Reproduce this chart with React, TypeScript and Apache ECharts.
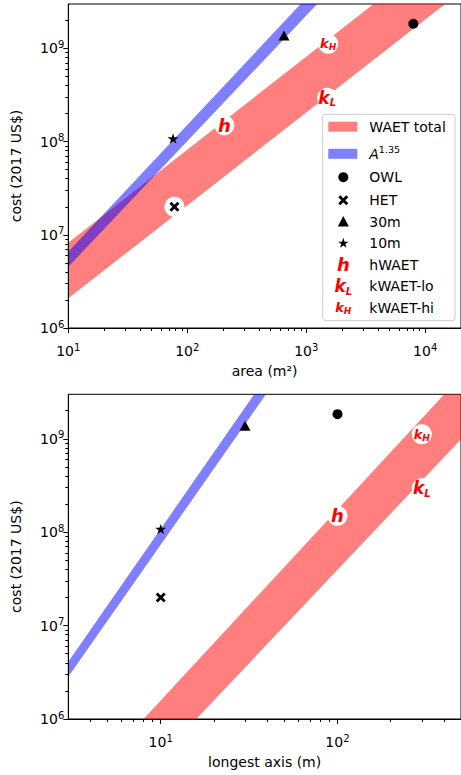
import React, { useEffect, useRef } from 'react';
import * as echarts from 'echarts';

const FONT = "'DejaVu Sans', 'Liberation Sans', sans-serif";

// ---- telescopes (markers) ----
const telNames = ['OWL', 'HET', '30m', '10m'];
const telArea = [7950, 78, 650, 76];
const telAxis = [100, 10, 30, 10];
const telCost = [1.84e9, 2.0e7, 1.38e9, 1.08e8];

// ---- WAET design labels ----
const waetNames = ['hWAET', 'kWAET-lo', 'kWAET-hi'];
const waetArea = [205, 1500, 1530];
const waetAxis = [100, 300, 300];
const waetCost = [1.5e8, 2.95e8, 1.12e9];

// ---- bands, area panel ----
const areaWaetUpper = [[10, 8.2e6], [3680, 3e9]];
const areaWaetLower = [[10, 2.08e6], [14700, 3e9]];
const areaPowUpper = [[10, 6.58e6], [898, 3e9]];
const areaPowLower = [[10, 4.54e6], [1236, 3e9]];

// ---- bands, longest-axis panel ----
const axisWaetUpper = [[8.0, 1e6], [402, 3e9], [500, 3e9]];
const axisWaetLower = [[15.9, 1e6], [500, 9.9e8]];
const axisPowUpper = [[3, 4.1e6], [33.8, 3e9]];
const axisPowLower = [[3, 2.83e6], [39.4, 3e9]];

// ---- ticks ----
const areaTicks = [10, 100, 1000, 10000];
const areaTickExps = ['1', '2', '3', '4'];
const lengthTicks = [10, 100];
const lengthTickExps = ['1', '2'];
const costTicks = [1e6, 1e7, 1e8, 1e9];
const costTickExps = ['6', '7', '8', '9'];

const AREA_MIN = 10, AREA_MAX = 2e4;
const LEN_MIN = 3, LEN_MAX = 500;
const COST_MIN = 1e6, COST_MAX = 3e9;

function minorTicks(lo: number, hi: number): number[] {
  const out: number[] = [];
  let dec = Math.pow(10, Math.floor(Math.log10(lo)));
  while (dec <= hi) {
    for (let m = 2; m <= 9; m++) {
      const v = m * dec;
      if (v > lo * 1.0000001 && v < hi * 0.9999999) out.push(v);
    }
    dec *= 10;
  }
  return out;
}

const RED = 'rgba(255,0,0,0.5)';
const BLUE = 'rgba(0,0,255,0.5)';
const LBL_RED = '#ff0000';

const X_PATH = 'path://M0,2 L2,0 L5,3 L8,0 L10,2 L7,5 L10,8 L8,10 L5,7 L2,10 L0,8 L3,5 Z';
const STAR_PATH =
  'path://M50,0 L61.2,34.5 L97.6,34.5 L68.2,55.9 L79.4,90.5 L50,69.1 L20.6,90.5 L31.8,55.9 L2.4,34.5 L38.8,34.5 Z';

const telSymbols: any[] = ['circle', X_PATH, 'triangle', STAR_PATH];
const telSizes: any[] = [10, 10, [11, 10], 11];

const labelFormats = ['{h|h}', '{kl|k}{ls|L}', '{kh|k}{hs|H}'];

const lblTok = (fontSize: number, lineHeight: number, extra: any = {}) => ({
  fontSize, lineHeight, fontWeight: 'bold', fontStyle: 'italic',
  color: LBL_RED, fill: LBL_RED, fontFamily: FONT, ...extra,
});
const rich: any = {
  h: lblTok(18, 20),
  kl: lblTok(17, 20),
  ls: lblTok(10, 9, { verticalAlign: 'bottom' }),
  kh: lblTok(13, 16),
  hs: lblTok(9, 8, { verticalAlign: 'bottom' }),
};

const tickRich: any = {
  b: { fontFamily: FONT, fontSize: 14, color: '#000', lineHeight: 18 },
  s: { fontFamily: FONT, fontSize: 10, color: '#000', lineHeight: 10, verticalAlign: 'top' },
};

function tickFormatter(ticks: number[], exps: string[]) {
  return (v: number) => {
    const i = ticks.findIndex((t) => Math.abs(Math.log10(t) - Math.log10(v)) < 1e-6);
    return i >= 0 ? `{b|10}{s|${exps[i]}}` : '';
  };
}

function xAxes(gridIndex: number, min: number, max: number, name: string, ticks: number[], exps: string[]) {
  return [
    {
      type: 'log', logBase: 10, gridIndex, min, max, position: 'bottom',
      name, nameLocation: 'middle', nameGap: 36,
      nameTextStyle: { fontFamily: FONT, fontSize: 14, color: '#000' },
      axisLine: { show: true, onZero: false, lineStyle: { color: '#000', width: 1 } },
      axisTick: { show: true, inside: false, length: 5, customValues: ticks, lineStyle: { color: '#000', width: 1 } },
      axisLabel: { show: true, customValues: ticks, formatter: tickFormatter(ticks, exps), rich: tickRich, fontFamily: FONT, fontSize: 14, color: '#000', margin: 14 },
      splitLine: { show: false }, minorTick: { show: false }, minorSplitLine: { show: false },
      z: 10,
    },
    {
      type: 'log', logBase: 10, gridIndex, min, max, position: 'bottom',
      axisLine: { show: false },
      axisTick: { show: true, inside: false, length: 3, customValues: minorTicks(min, max), lineStyle: { color: '#000', width: 1 } },
      axisLabel: { show: false },
      splitLine: { show: false },
      z: 10,
    },
  ];
}

function yAxes(gridIndex: number) {
  return [
    {
      type: 'log', logBase: 10, gridIndex, min: COST_MIN, max: COST_MAX, position: 'left',
      name: 'cost (2017 US$)', nameLocation: 'middle', nameGap: 45,
      nameTextStyle: { fontFamily: FONT, fontSize: 14, color: '#000' },
      axisLine: { show: true, onZero: false, lineStyle: { color: '#000', width: 1 } },
      axisTick: { show: true, inside: false, length: 5, customValues: costTicks, lineStyle: { color: '#000', width: 1 } },
      axisLabel: { show: true, customValues: costTicks, formatter: tickFormatter(costTicks, costTickExps), rich: tickRich, fontFamily: FONT, fontSize: 14, color: '#000', margin: 4 },
      splitLine: { show: false }, minorTick: { show: false }, minorSplitLine: { show: false },
      z: 10,
    },
    {
      type: 'log', logBase: 10, gridIndex, min: COST_MIN, max: COST_MAX, position: 'left',
      axisLine: { show: false },
      axisTick: { show: true, inside: false, length: 3, customValues: minorTicks(COST_MIN, COST_MAX), lineStyle: { color: '#000', width: 1 } },
      axisLabel: { show: false },
      splitLine: { show: false },
      z: 10,
    },
  ];
}

function band(name: string, upper: number[][], lower: number[][], color: string, xi: number, yi: number, z: number) {
  const poly = upper.concat(lower.slice().reverse());
  return {
    type: 'custom', name, xAxisIndex: xi, yAxisIndex: yi, clip: true, silent: true, z,
    data: [upper[0]],
    renderItem: (_params: any, api: any) => ({
      type: 'polygon',
      shape: { points: poly.map((p) => api.coord(p)) },
      style: { fill: color },
    }),
  };
}

function panelSeries(xs: number[], wxs: number[], xi: number, yi: number, hetBackdrop: boolean) {
  const series: any[] = [];
  const labelData: any[] = waetNames.map((n, i) => ({
    name: n,
    value: [wxs[i], waetCost[i]],
    label: { show: true, position: 'inside', formatter: labelFormats[i], rich },
  }));
  if (hetBackdrop) {
    labelData.push({ name: 'HET-bg', value: [xs[1], telCost[1]], label: { show: false } });
  }
  series.push({
    type: 'scatter', name: 'labels', xAxisIndex: xi, yAxisIndex: yi, z: 5, silent: true,
    symbol: 'circle', symbolSize: 20, itemStyle: { color: '#ffffff', opacity: 1 },
    data: labelData,
  });
  telNames.forEach((n, i) => {
    series.push({
      type: 'scatter', name: n, xAxisIndex: xi, yAxisIndex: yi, z: 6, silent: true,
      symbol: telSymbols[i], symbolSize: telSizes[i], symbolKeepAspect: true,
      itemStyle: { color: '#000', opacity: 1 },
      data: [[xs[i], telCost[i]]],
    });
  });
  return series;
}

// ---- legend (graphic) ----
const LX = 343.3;
const TX = 369.3;
const rows = [126.7, 153.8, 177.2, 200.3, 221.5, 243, 264.7, 286.3, 307.5];
const legendTexts = ['WAET total', '', 'OWL', 'HET', '30m', '10m', 'hWAET', 'kWAET-lo', 'kWAET-hi'];

function xPoly(cx: number, cy: number, s: number) {
  const pts = [[0, 2], [2, 0], [5, 3], [8, 0], [10, 2], [7, 5], [10, 8], [8, 10], [5, 7], [2, 10], [0, 8], [3, 5]];
  return pts.map(([x, y]) => [cx + ((x - 5) * s) / 10, cy + ((y - 5) * s) / 10]);
}
function starPoly(cx: number, cy: number, s: number) {
  const pts = [[50, 0], [61.2, 34.5], [97.6, 34.5], [68.2, 55.9], [79.4, 90.5], [50, 69.1], [20.6, 90.5], [31.8, 55.9], [2.4, 34.5], [38.8, 34.5]];
  return pts.map(([x, y]) => [cx + ((x - 50) * s) / 100, cy + ((y - 47) * s) / 100]);
}

function legendGraphic() {
  const els: any[] = [];
  els.push({
    type: 'rect', z: 100,
    shape: { x: 322.7, y: 114.3, width: 132.3, height: 206.4, r: 3 },
    style: { fill: 'rgba(255,255,255,0.8)', stroke: '#cccccc', lineWidth: 1 },
  });
  els.push({ type: 'rect', z: 101, shape: { x: 328.3, y: rows[0] - 5, width: 29, height: 10 }, style: { fill: RED } });
  els.push({ type: 'rect', z: 101, shape: { x: 328.3, y: rows[1] - 5, width: 29, height: 10 }, style: { fill: BLUE } });
  els.push({ type: 'circle', z: 101, shape: { cx: LX, cy: rows[2], r: 5 }, style: { fill: '#000' } });
  els.push({ type: 'polygon', z: 101, shape: { points: xPoly(LX, rows[3], 10) }, style: { fill: '#000' } });
  els.push({ type: 'polygon', z: 101, shape: { points: [[LX, rows[4] - 5.5], [LX - 5.5, rows[4] + 5], [LX + 5.5, rows[4] + 5]] }, style: { fill: '#000' } });
  els.push({ type: 'polygon', z: 101, shape: { points: starPoly(LX, rows[5], 11) }, style: { fill: '#000' } });
  els.push({ type: 'text', z: 101, x: LX, y: rows[6], style: { text: '{h|h}', rich, fill: LBL_RED, align: 'center', verticalAlign: 'middle' } });
  els.push({ type: 'text', z: 101, x: LX, y: rows[7], style: { text: '{kl|k}{ls|L}', rich, fill: LBL_RED, align: 'center', verticalAlign: 'middle' } });
  els.push({ type: 'text', z: 101, x: LX, y: rows[8], style: { text: '{kh|k}{hs|H}', rich, fill: LBL_RED, align: 'center', verticalAlign: 'middle' } });
  legendTexts.forEach((t, i) => {
    if (!t) return;
    els.push({
      type: 'text', z: 101, x: TX, y: rows[i],
      style: { text: t, fill: '#000', fontFamily: FONT, fontSize: 14, align: 'left', verticalAlign: 'middle' },
    });
  });
  els.push({
    type: 'text', z: 101, x: TX, y: rows[1],
    style: {
      text: '{a|A}{s|1.35}', align: 'left', verticalAlign: 'middle', fill: '#000',
      rich: {
        a: { fontFamily: FONT, fontSize: 14, fontStyle: 'italic', fill: '#000', color: '#000', lineHeight: 18 },
        s: { fontFamily: FONT, fontSize: 9.5, fill: '#000', color: '#000', lineHeight: 10, verticalAlign: 'top' },
      },
    },
  });
  return els;
}

export default function App() {
  const ref = useRef<HTMLDivElement>(null);
  useEffect(() => {
    const chart = echarts.init(ref.current!, null, { renderer: 'svg' });
    const option: any = {
      animation: false,
      backgroundColor: '#ffffff',
      textStyle: { fontFamily: FONT },
      grid: [
        { left: 68.3, top: 4, right: -2, height: 324, show: true, borderColor: '#000', borderWidth: 1, backgroundColor: 'transparent', containLabel: false },
        { left: 68.3, top: 394.3, right: -2.6, height: 324.7, show: true, borderColor: '#000', borderWidth: 1, backgroundColor: 'transparent', containLabel: false },
      ],
      xAxis: [
        ...xAxes(0, AREA_MIN, AREA_MAX, 'area (m²)', areaTicks, areaTickExps),
        ...xAxes(1, LEN_MIN, LEN_MAX, 'longest axis (m)', lengthTicks, lengthTickExps),
      ],
      yAxis: [...yAxes(0), ...yAxes(1)],
      series: [
        band('WAET total', areaWaetUpper, areaWaetLower, RED, 0, 0, 1),
        band('A^1.35', areaPowUpper, areaPowLower, BLUE, 0, 0, 2),
        ...panelSeries(telArea, waetArea, 0, 0, true),
        band('WAET total', axisWaetUpper, axisWaetLower, RED, 2, 2, 1),
        band('A^1.35', axisPowUpper, axisPowLower, BLUE, 2, 2, 2),
        ...panelSeries(telAxis, waetAxis, 2, 2, false),
      ],
      graphic: { elements: legendGraphic() },
    };
    chart.setOption(option);
    return () => chart.dispose();
  }, []);
  return (
    <div
      ref={ref}
      style={{ position: 'fixed', left: 0, top: 0, width: 461, height: 775, background: '#fff' }}
    />
  );
}
